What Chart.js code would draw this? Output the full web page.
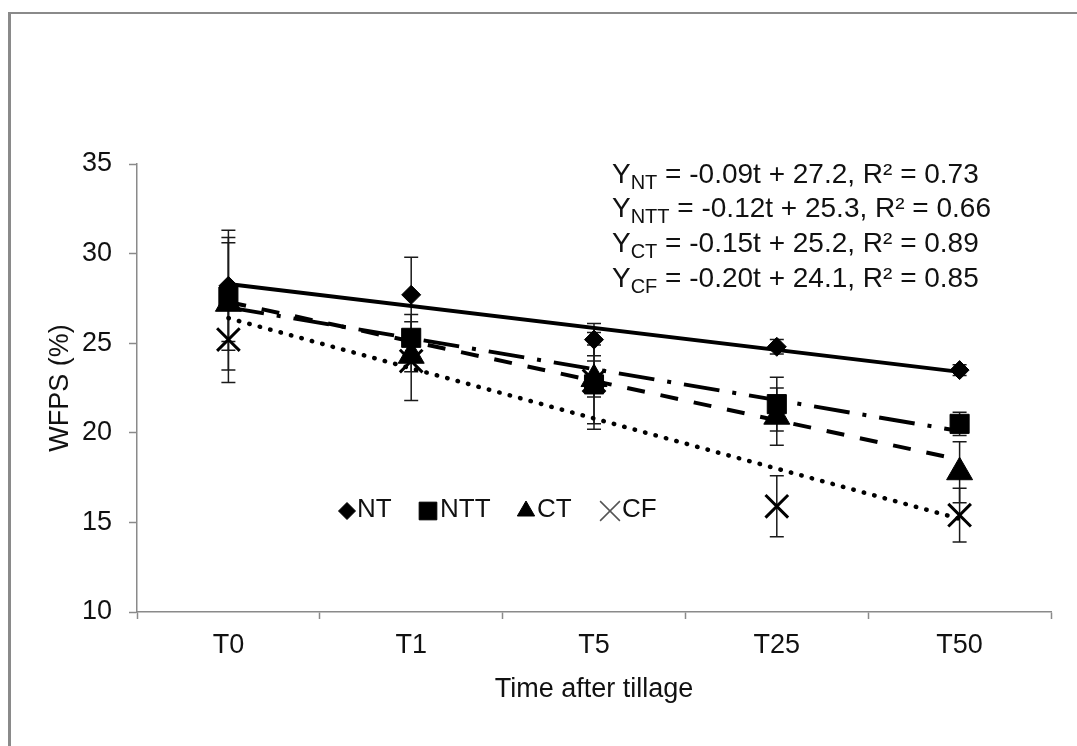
<!DOCTYPE html>
<html lang="en">
<head>
  <meta charset="UTF-8" />
  <title>WFPS | Time after tillage</title>
  <script src="https://cdn.jsdelivr.net/npm/chart.js"></script>
  <style>
    html, body { margin: 0; background: #fff; overflow: hidden; }
    .moldura { position: absolute; left: 8px; top: 12px; right: 0; bottom: 0; border-left: 3px solid #8a8a8a; border-top: 2px solid #8a8a8a; }
    .grafico { position: absolute; left: 0; top: 0; width: 1077px; height: 746px; }
  </style>
</head>
<body>
  <div class="moldura"></div>
  <div class="grafico"><canvas id="myChart" width="1077" height="746"></canvas></div>

<script>
// categorias e valores
const categorias = ['T0', 'T1', 'T5', 'T25', 'T50'];
const yTicks = [10, 15, 20, 25, 30, 35];

const nt  = [28.2, 27.7, 25.2, 24.8, 23.5];
const ntt = [27.6, 25.3, 22.7, 21.6, 20.5];
const ct  = [27.2, 24.3, 23.0, 20.9, 17.8];
const cf  = [25.2, 24.0, 22.9, 15.9, 15.4];

const erroNT  = [3.1, 2.1, 0.9, 0.4, 0.3];
const erroNTT = [3.0, 1.3, 2.2, 1.5, 0.65];
const erroCT  = [3.7, 0.9, 1.0, 1.6, 1.7];
const erroCF  = [2.4, 2.2, 2.7, 1.7, 1.5];

// linhas de tendência (início em T0, fim em T50)
const tendNT  = [28.3, 23.4];
const tendNTT = [27.0, 20.1];
const tendCT  = [27.3, 18.5];
const tendCF  = [26.4, 15.2];

const equacoes = [
  ['NT',  ' = -0.09t + 27.2, R\u00B2 = 0.73'],
  ['NTT', ' = -0.12t + 25.3, R\u00B2 = 0.66'],
  ['CT',  ' = -0.15t + 25.2, R\u00B2 = 0.89'],
  ['CF',  ' = -0.20t + 24.1, R\u00B2 = 0.85']
];

const familia = '"Liberation Sans", Arial, sans-serif';
const fonte = { family: familia, size: 27 };

function tendencia(t) {
  return [t[0], null, null, null, t[1]];
}

const barrasErro = {
  id: 'barrasErro',
  beforeDatasetsDraw(chart) {
    const { ctx, scales: { x, y } } = chart;
    const pares = [[nt, erroNT], [ntt, erroNTT], [ct, erroCT], [cf, erroCF]];
    ctx.save();
    ctx.strokeStyle = '#1a1a1a';
    ctx.lineWidth = 1.5;
    pares.forEach(([v, e]) => {
      v.forEach((val, i) => {
        const px = x.getPixelForValue(i);
        const top = y.getPixelForValue(val + e[i]);
        const bot = y.getPixelForValue(val - e[i]);
        ctx.beginPath();
        ctx.moveTo(px, top); ctx.lineTo(px, bot);
        ctx.moveTo(px - 7, top); ctx.lineTo(px + 7, top);
        ctx.moveTo(px - 7, bot); ctx.lineTo(px + 7, bot);
        ctx.stroke();
      });
    });
    ctx.restore();
  }
};

const textos = {
  id: 'textos',
  afterDraw(chart) {
    const ctx = chart.ctx;
    ctx.save();
    ctx.fillStyle = '#111';
    ctx.textBaseline = 'alphabetic';
    ctx.textAlign = 'left';
    const bases = [183, 217, 252, 287];
    equacoes.forEach((eq, i) => {
      let x = 612;
      ctx.font = '28px ' + familia;
      ctx.fillText('Y', x, bases[i]);
      x += ctx.measureText('Y').width;
      ctx.font = '20px ' + familia;
      ctx.fillText(eq[0], x, bases[i] + 6);
      x += ctx.measureText(eq[0]).width;
      ctx.font = '28px ' + familia;
      ctx.fillText(eq[1], x, bases[i]);
    });

    // legenda dentro da área do gráfico
    const itens = [
      { t: 'NT',  estilo: 'rectRot',  r: 8.5,  mx: 347, tx: 357, bw: 1 },
      { t: 'NTT', estilo: 'rect',     r: 12.5, mx: 428, tx: 440, bw: 1 },
      { t: 'CT',  estilo: 'triangle', r: 10,   mx: 526, tx: 537, bw: 1 },
      { t: 'CF',  estilo: 'crossRot', r: 14,   mx: 610, tx: 622, bw: 1.5 }
    ];
    const yl = 510;
    itens.forEach(it => {
      ctx.fillStyle = '#000';
      ctx.strokeStyle = it.estilo === 'crossRot' ? '#555' : '#000';
      ctx.lineWidth = it.bw;
      Chart.helpers.drawPoint(ctx, { pointStyle: it.estilo, radius: it.r, rotation: 0, borderWidth: it.bw }, it.mx, yl + 1);
      ctx.fillStyle = '#111';
      ctx.font = '26px ' + familia;
      ctx.textBaseline = 'middle';
      ctx.fillText(it.t, it.tx, yl);
    });
    ctx.restore();
  }
};

const serie = (label, data, estilo, raio, bw) => ({
  label: label,
  data: data,
  showLine: false,
  pointStyle: estilo,
  pointRadius: raio,
  pointBackgroundColor: '#000',
  pointBorderColor: '#000',
  pointBorderWidth: bw,
  borderColor: '#000',
  backgroundColor: '#000'
});

const linha = (label, t, dash, cap, w) => ({
  label: label,
  data: tendencia(t),
  spanGaps: true,
  borderColor: '#000',
  borderWidth: w,
  borderDash: dash,
  borderCapStyle: cap,
  pointRadius: 0,
  fill: false,
  tension: 0
});

const ctx = document.getElementById('myChart');

new Chart(ctx, {
  type: 'line',
  data: {
    labels: categorias,
    datasets: [
      serie('NT', nt, 'rectRot', 9.5, 1),
      serie('NTT', ntt, 'rect', 13.5, 1),
      serie('CT', ct, 'triangle', 15, 1),
      serie('CF', cf, 'crossRot', 16, 3),
      linha('tend NT', tendNT, [], 'butt', 4),
      linha('tend NTT', tendNTT, [36, 13, 4, 13], 'butt', 4),
      linha('tend CT', tendCT, [18, 16], 'butt', 4),
      linha('tend CF', tendCF, [0.5, 10.3], 'round', 4.5)
    ]
  },
  options: {
    responsive: false,
    animation: false,
    layout: { padding: { top: 164, right: 26, left: 0, bottom: 0 } },
    plugins: {
      legend: { display: false },
      tooltip: { enabled: false }
    },
    scales: {
      x: {
        offset: true,
        grid: { display: true, offset: true, drawOnChartArea: false, tickLength: 7, tickColor: '#8a8a8a', tickWidth: 1.5 },
        border: { color: '#8a8a8a', width: 1.5 },
        ticks: { color: '#111', font: fonte, padding: 10 },
        title: { display: true, text: 'Time after tillage', color: '#111', font: fonte, padding: { top: 0, bottom: 40 } },
        afterFit: s => { s.height = 134; }
      },
      y: {
        min: yTicks[0],
        max: yTicks[yTicks.length - 1],
        afterBuildTicks: s => { s.ticks = yTicks.map(v => ({ value: v })); },
        grid: { display: true, drawOnChartArea: false, tickLength: 8, tickColor: '#8a8a8a', tickWidth: 1.5 },
        border: { color: '#8a8a8a', width: 1.5 },
        ticks: { color: '#111', font: fonte, padding: 17 },
        title: { display: true, text: 'WFPS (%)', color: '#111', font: fonte, padding: { top: 44, bottom: 0 } },
        afterFit: s => { s.width = 137; }
      }
    }
  },
  plugins: [barrasErro, textos]
});
</script>
</body>
</html>
